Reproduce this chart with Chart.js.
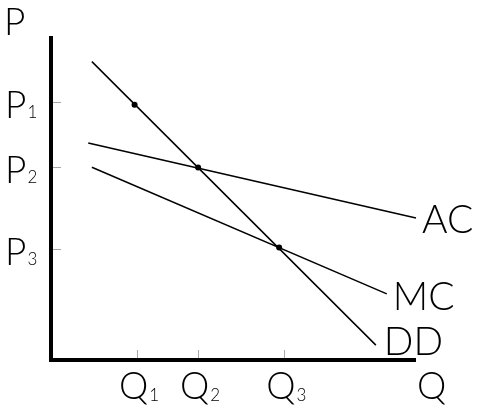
<!DOCTYPE html>
<html>
<head>
<meta charset="utf-8">
<script src="https://cdn.jsdelivr.net/npm/chart.js@4"></script>
<style>
  body { margin: 0; background: #fff; }
</style>
</head>
<body>
<canvas id="canvas" width="479" height="408"></canvas>
<script>
// quantity ticks on the x axis, price ticks on the y axis
const qTicks = [2.36, 4.03, 6.39];
const qSubs = ['1', '2', '3'];
const pTicks = [7.96, 5.95, 3.43];
const pSubs = ['1', '2', '3'];

// curves (two end points each)
const ddX = [1.12, 8.90];
const ddY = [9.21, 0.46];
const acX = [1.02, 10.0];
const acY = [6.70, 4.38];
const mcX = [1.12, 9.20];
const mcY = [5.95, 2.04];

// marked intersection points
const dotX = [2.29, 4.03, 6.25];
const dotY = [7.88, 5.94, 3.47];

const curveNames = ['DD', 'AC', 'MC'];

function pts(xs, ys) {
  return xs.map((x, i) => ({ x: x, y: ys[i] }));
}

const FONT = 'Lato, "DejaVu Sans", sans-serif';

// draws axes, tick marks, labels with subscripts
const econPlugin = {
  id: 'econ',
  afterDatasetsDraw(chart) {
    const ctx = chart.ctx;
    const xs = chart.scales.x;
    const ys = chart.scales.y;
    const x0 = xs.getPixelForValue(0);
    const y0 = ys.getPixelForValue(0);
    const yTop = ys.getPixelForValue(10);
    const xEnd = xs.getPixelForValue(10);
    ctx.save();

    // tick marks
    ctx.strokeStyle = '#a8a8a8';
    ctx.lineWidth = 1;
    pTicks.forEach(v => {
      const py = Math.round(ys.getPixelForValue(v)) + 0.5;
      ctx.beginPath();
      ctx.moveTo(x0 + 2, py);
      ctx.lineTo(x0 + 10, py);
      ctx.stroke();
    });
    qTicks.forEach(v => {
      const px = Math.round(xs.getPixelForValue(v)) + 0.5;
      ctx.beginPath();
      ctx.moveTo(px, y0 - 2);
      ctx.lineTo(px, y0 - 10);
      ctx.stroke();
    });

    // axes
    ctx.strokeStyle = '#000';
    ctx.lineWidth = 4;
    ctx.beginPath();
    ctx.moveTo(x0, yTop);
    ctx.lineTo(x0, y0);
    ctx.lineTo(xEnd, y0);
    ctx.stroke();

    ctx.fillStyle = '#000';
    ctx.textBaseline = 'alphabetic';

    // P labels
    pTicks.forEach((v, i) => {
      const py = ys.getPixelForValue(v);
      ctx.font = '300 37px ' + FONT;
      ctx.textAlign = 'left';
      ctx.fillText('P', 5, py + 16);
      const w = ctx.measureText('P').width;
      ctx.font = '300 17px ' + FONT;
      ctx.fillText(pSubs[i], 5 + w + 1, py + 16);
    });

    // Q labels
    qTicks.forEach((v, i) => {
      const px = xs.getPixelForValue(v);
      ctx.font = '300 37px ' + FONT;
      const wq = ctx.measureText('Q').width;
      ctx.font = '300 17px ' + FONT;
      const ws = ctx.measureText(qSubs[i]).width;
      const left = px + 2 - (wq + ws + 1) / 2;
      ctx.font = '300 37px ' + FONT;
      ctx.textAlign = 'left';
      ctx.fillText('Q', left, 399);
      ctx.font = '300 17px ' + FONT;
      ctx.fillText(qSubs[i], left + wq + 1, 401);
    });

    // axis titles
    ctx.font = '300 37px ' + FONT;
    ctx.textAlign = 'left';
    ctx.fillText('P', 4, 35);
    ctx.fillText('Q', xEnd + 1, 399);

    // curve names at the end of each curve
    const offs = { DD: [8, 10], AC: [6, 15], MC: [6, 16] };
    chart.data.datasets.forEach(ds => {
      if (!curveNames.includes(ds.label)) return;
      const last = ds.data[ds.data.length - 1];
      const px = xs.getPixelForValue(last.x);
      const py = ys.getPixelForValue(last.y);
      const o = offs[ds.label];
      ctx.font = '300 39px ' + FONT;
      ctx.fillText(ds.label, px + o[0], py + o[1]);
    });

    ctx.restore();
  }
};

const lineStyle = {
  showLine: true,
  borderColor: '#000',
  borderWidth: 1.5,
  pointRadius: 0,
  fill: false,
  clip: false
};

var ctx = document.getElementById('canvas').getContext('2d');
var myChart = new Chart(ctx, {
  type: 'scatter',
  data: {
    datasets: [
      Object.assign({ label: 'DD', data: pts(ddX, ddY) }, lineStyle),
      Object.assign({ label: 'AC', data: pts(acX, acY) }, lineStyle),
      Object.assign({ label: 'MC', data: pts(mcX, mcY) }, lineStyle),
      {
        label: 'dots',
        data: pts(dotX, dotY),
        showLine: false,
        pointRadius: 3,
        pointBackgroundColor: '#000',
        pointBorderColor: '#000',
        pointBorderWidth: 0,
        clip: false
      }
    ]
  },
  options: {
    responsive: false,
    animation: false,
    layout: { padding: { left: 51, right: 63, top: 36, bottom: 48 } },
    plugins: { legend: { display: false }, tooltip: { enabled: false } },
    scales: {
      x: { type: 'linear', min: 0, max: 10, display: false },
      y: { type: 'linear', min: 0, max: 10, display: false }
    }
  },
  plugins: [econPlugin]
});
</script>
</body>
</html>
